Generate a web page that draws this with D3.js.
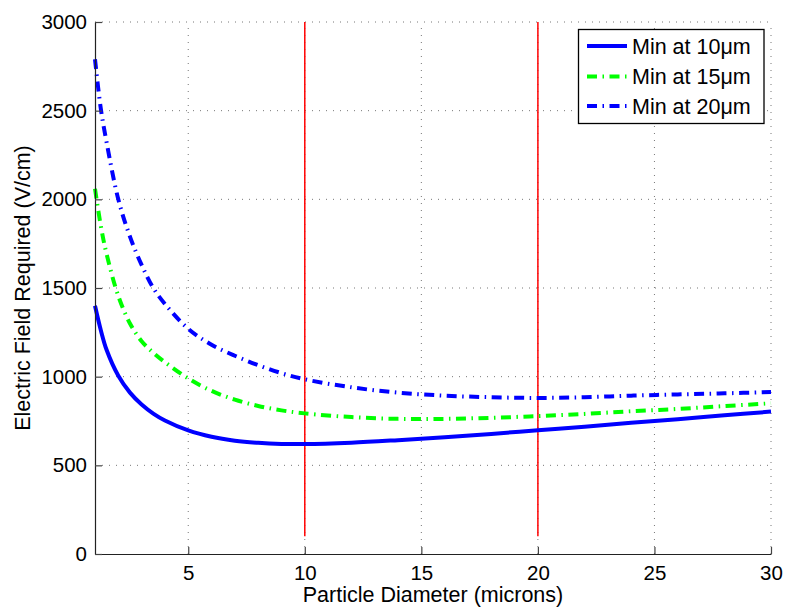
<!DOCTYPE html>
<html>
<head>
<meta charset="utf-8">
<script src="https://cdn.jsdelivr.net/npm/d3@7"></script>
<style>
  html, body { margin: 0; padding: 0; background: #fff; }
  svg { display: block; }
  text { font-family: "Liberation Sans", Arial, Helvetica, sans-serif; fill: #000; }
</style>
</head>
<body>
<script>
// ---- data ----
const diameters = [1, 1.25, 1.5, 2, 2.5, 3, 3.5, 4, 5, 6, 7, 8, 9, 10, 12, 14, 16, 18, 20, 22, 24, 26, 28, 30];
const minAt10 = [1400, 1262, 1150, 1005, 910, 843, 792, 753, 697, 661, 639, 627, 621, 620, 628, 642, 658, 677, 698, 718, 740, 760, 782, 803];
const minAt15 = [2060, 1850, 1690, 1455, 1300, 1200, 1135, 1082, 990, 920, 870, 835, 810, 793, 772, 762, 762, 768, 778, 790, 805, 818, 834, 850];
const minAt20 = [2790, 2510, 2320, 2000, 1790, 1630, 1500, 1410, 1270, 1180, 1118, 1065, 1020, 985, 940, 910, 893, 884, 880, 884, 893, 900, 906, 913];
const seriesNames = ["Min at 10μm", "Min at 15μm", "Min at 20μm"];
const seriesColors = ["#0000ff", "#00ff00", "#0000ff"];
const markerLines = [10, 20];
const markerRange = [100, 3000];
const xTicks = [5, 10, 15, 20, 25, 30];
const yTicks = [0, 500, 1000, 1500, 2000, 2500, 3000];
const xLabel = "Particle Diameter (microns)";
const yLabel = "Electric Field Required (V/cm)";

// ---- layout ----
const W = 787, H = 607;
const m = { left: 95, right: 16, top: 22, bottom: 53 };
const svg = d3.select("body").append("svg").attr("width", W).attr("height", H);

const x = d3.scaleLinear().domain([1, 30]).range([m.left, W - m.right]);
const y = d3.scaleLinear().domain([0, 3000]).range([H - m.bottom, m.top]);

// grid
const grid = svg.append("g").attr("stroke", "#777").attr("stroke-width", 1).attr("stroke-dasharray", "1,6");
xTicks.forEach(t => grid.append("line").attr("x1", x(t)).attr("x2", x(t)).attr("y1", y(0)).attr("y2", y(3000)));
yTicks.filter(t => t > 0).forEach(t => grid.append("line").attr("x1", x(1)).attr("x2", x(30)).attr("y1", y(t)).attr("y2", y(t)));

// red vertical lines
markerLines.forEach(v => {
  svg.append("line").attr("x1", x(v)).attr("x2", x(v))
    .attr("y1", y(markerRange[0])).attr("y2", y(markerRange[1]))
    .attr("stroke", "#ff0000").attr("stroke-width", 1.5);
});

// series
const seriesData = [minAt10, minAt15, minAt20];
const dashes = [null, "10,5.5,1.5,5.5", "10,5.5,1.5,5.5"];
const line = d3.line().x(d => x(d[0])).y(d => y(d[1])).curve(d3.curveCatmullRom.alpha(0.5));
seriesData.forEach((vals, i) => {
  const pts = diameters.map((d, j) => [d, vals[j]]);
  const p = svg.append("path").datum(pts).attr("d", line)
    .attr("fill", "none").attr("stroke", seriesColors[i]).attr("stroke-width", 4);
  if (dashes[i]) p.attr("stroke-dasharray", dashes[i]);
});

// axes
const xAxis = d3.axisBottom(x).tickValues(xTicks).tickFormat(d3.format("d")).tickSizeInner(-7).tickSizeOuter(0).tickPadding(11);
const yAxis = d3.axisLeft(y).tickValues(yTicks).tickFormat(d3.format("d")).tickSizeInner(-7).tickSizeOuter(0).tickPadding(8);
const gx = svg.append("g").attr("transform", `translate(0,${y(0)})`).call(xAxis);
const gy = svg.append("g").attr("transform", `translate(${x(1)},0)`).call(yAxis);
[gx, gy].forEach(g => {
  g.select(".domain").attr("stroke", "#222").attr("stroke-width", 1.2);
  g.selectAll(".tick line").attr("stroke", "#444").attr("stroke-width", 1.2);
  g.selectAll(".tick text").attr("font-size", 20.5).attr("font-family", "Liberation Sans, Arial, sans-serif").attr("fill", "#000");
});
gx.selectAll(".tick text").attr("dy", "0.71em");

// axis labels
svg.append("text").attr("x", (x(1) + x(30)) / 2) .attr("y", 602)
  .attr("text-anchor", "middle").attr("font-size", 21.5).text(xLabel);
svg.append("text").attr("transform", `translate(30,${(y(0) + y(3000)) / 2}) rotate(-90)`)
  .attr("text-anchor", "middle").attr("font-size", 21.5).text(yLabel);

// legend
const lg = svg.append("g");
lg.append("rect").attr("x", 578.5).attr("y", 29.5).attr("width", 185.5).attr("height", 94)
  .attr("fill", "#fff").attr("stroke", "#000").attr("stroke-width", 1.3);
const rowsY = [46, 76.5, 106];
seriesNames.forEach((name, i) => {
  const l = lg.append("line").attr("x1", 587).attr("x2", 627).attr("y1", rowsY[i]).attr("y2", rowsY[i])
    .attr("stroke", seriesColors[i]).attr("stroke-width", 4);
  if (dashes[i]) l.attr("stroke-dasharray", dashes[i]);
  lg.append("text").attr("x", 632).attr("y", rowsY[i]).attr("dy", "0.36em")
    .attr("font-size", 21.5).text(name);
});
</script>
</body>
</html>
